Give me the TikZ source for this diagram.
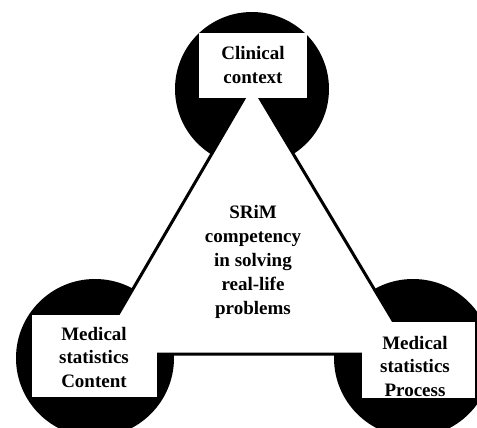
\documentclass[tikz,border=0pt]{standalone}
\usepackage{fontspec}
\setmainfont{Liberation Serif}
\usetikzlibrary{positioning}
\definecolor{discblack}{RGB}{0,0,0}
\tikzset{
  tagtext/.style={font=\fontsize{19}{23.5}\selectfont\bfseries, align=center, inner sep=0pt},
  tagbox/.style={fill=white},
}

\begin{document}
\begin{tikzpicture}[x=1pt,y=-1pt]
\useasboundingbox (0,0) rectangle (477,428);
\clip (0,0) rectangle (477,428);
% Triangle corners
\coordinate (apex) at (252,85);
\coordinate (lcorner) at (95,354);
\coordinate (rcorner) at (413,354);
% Black discs
\fill[discblack] (252,89) circle[radius=77pt];
\fill[discblack] (95,358) circle[radius=79pt];
\fill[discblack] (413,358) circle[radius=79pt];
% White triangle
\draw[discblack, line width=3pt, fill=white] (apex) -- (lcorner) -- (rcorner) -- cycle;
% Boxes
\fill[tagbox] (199,33) rectangle (307,98);
\fill[tagbox] (32,315) rectangle (157,397);
\fill[tagbox] (362,322) rectangle (475,398);
% Labels
\node[tagtext] (clinical) at (253,65) {Clinical\\context};
\node[tagtext] (content) at (94,357) {Medical\\statistics\\Content};
\node[tagtext] (process) at (415,366) {Medical\\statistics\\Process};
\node[tagtext, font=\fontsize{19}{24}\selectfont\bfseries] (srim) at (253,262) {SRiM\\competency\\in solving\\real-life\\problems};
\end{tikzpicture}
\end{document}
